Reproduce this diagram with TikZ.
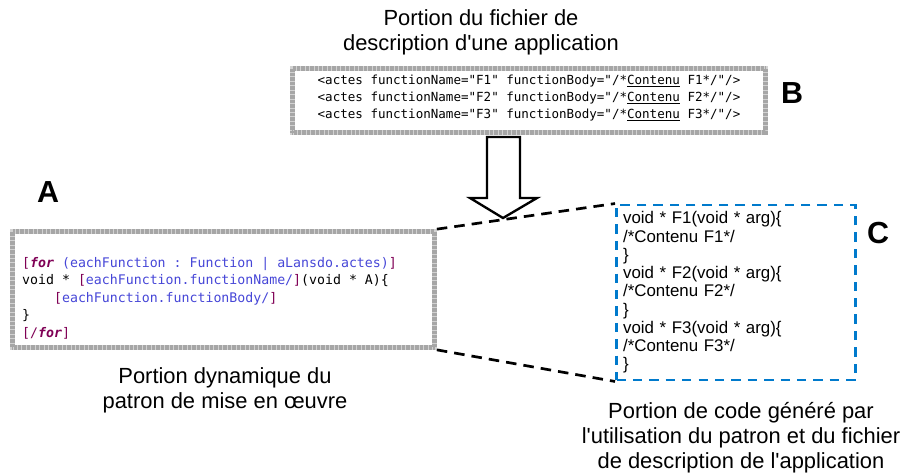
\documentclass[tikz,border=0pt]{standalone}
\usepackage{fontspec}
\setmainfont{Liberation Sans}
\setmonofont{DejaVu Sans Mono}
\usepackage{tikz}
\usetikzlibrary{arrows.meta}

\definecolor{tplred}{RGB}{127,0,85}
\definecolor{tplblue}{RGB}{70,70,215}
\definecolor{genblue}{RGB}{0,122,204}
\newcommand{\kw}[1]{\textcolor{tplred}{#1}}
\newcommand{\vr}[1]{\textcolor{tplblue}{#1}}
\newcommand{\kfor}{\kw{\textbf{\textit{for}}}}
\newcommand{\apos}{\textquotesingle}

\begin{document}
\begin{tikzpicture}[x=0.03cm,y=-0.03cm]
\useasboundingbox (0,0) rectangle (908,474);
\begin{scope}[gray_frame/.style={draw=gray!70, line width=4pt,
                  dash pattern=on 0.5pt off 0.6pt,
                  preaction={draw=gray!35, solid, line width=4pt}},
              blue_frame/.style={draw=genblue, line width=2.5pt,
                  dash pattern=on 8pt off 6pt}]
    \node [gray_frame, minimum width=14.19cm, minimum height=1.92cm] (boxB) at (529, 100.5) {};
    \node [gray_frame, minimum width=12.66cm, minimum height=3.48cm] (boxA) at (223.5, 289.5) {};
    \node [blue_frame, minimum height=5.25cm, inner xsep=0.2cm, text width=6.77cm,
           align=left, font=\fontsize{14.4}{15.6}\selectfont] (boxC) at (736, 292.5)
        {void * F1(void * arg)\{\\ /*Contenu F1*/\\ \}\\
         void * F2(void * arg)\{\\ /*Contenu F2*/\\ \}\\
         void * F3(void * arg)\{\\ /*Contenu F3*/\\ \}};
\end{scope}
\begin{scope}[every node/.style={inner sep=0pt, align=left}]
    \node [font=\fontsize{10.7}{14.5}\selectfont\ttfamily] (codeB) at (529, 98)
        {<actes functionName="F1" functionBody="/*\underline{Contenu} F1*/"/>\\
         <actes functionName="F2" functionBody="/*\underline{Contenu} F2*/"/>\\
         <actes functionName="F3" functionBody="/*\underline{Contenu} F3*/"/>};
    \node [anchor=west, font=\fontsize{11.3}{14.9}\selectfont\ttfamily] (codeA) at (22, 298)
        {\kw{[}\kfor\ \vr{(eachFunction : Function | aLansdo.actes)}\kw{]}\\
         void * \kw{[}\vr{eachFunction.functionName/}\kw{]}(void * A)\{\\
         \hphantom{xxxx}\kw{[}\vr{eachFunction.functionBody/}\kw{]}\\
         \}\\
         \kw{[/}\kfor\kw{]}};
\end{scope}
\begin{scope}[every node/.style={inner sep=0pt, align=center,
                  font=\fontsize{18.7}{21.3}\selectfont},
              letter/.style={font=\fontsize{26}{26}\selectfont\bfseries}]
    \node (titleB) at (481, 32.5) {Portion du fichier de\\description d\apos une application};
    \node (titleA) at (225, 390) {Portion dynamique du\\patron de mise en œuvre};
    \node (titleC) at (741, 438) {Portion de code généré par\\l\apos utilisation du patron et du fichier\\de description de l\apos application};
    \node [letter] (letA) at (48, 192) {A};
    \node [letter] (letB) at (792, 93) {B};
    \node [letter] (letC) at (878, 233) {C};
\end{scope}
\begin{scope}[link_edge/.style={draw=black, line width=2.3pt, dash pattern=on 9pt off 6pt},
              big_arrow/.style={draw=black, line width=2pt, fill=white, line join=miter}]
    \path (boxA.north east) edge [link_edge] (boxC.north west);
    \path (boxA.south east) edge [link_edge] (boxC.south west);
    \draw [big_arrow] (487,137) -- (487,198) -- (470,198) -- (503,218)
        -- (537,198) -- (520,198) -- (520,137) -- cycle;
\end{scope}
\end{tikzpicture}
\end{document}
